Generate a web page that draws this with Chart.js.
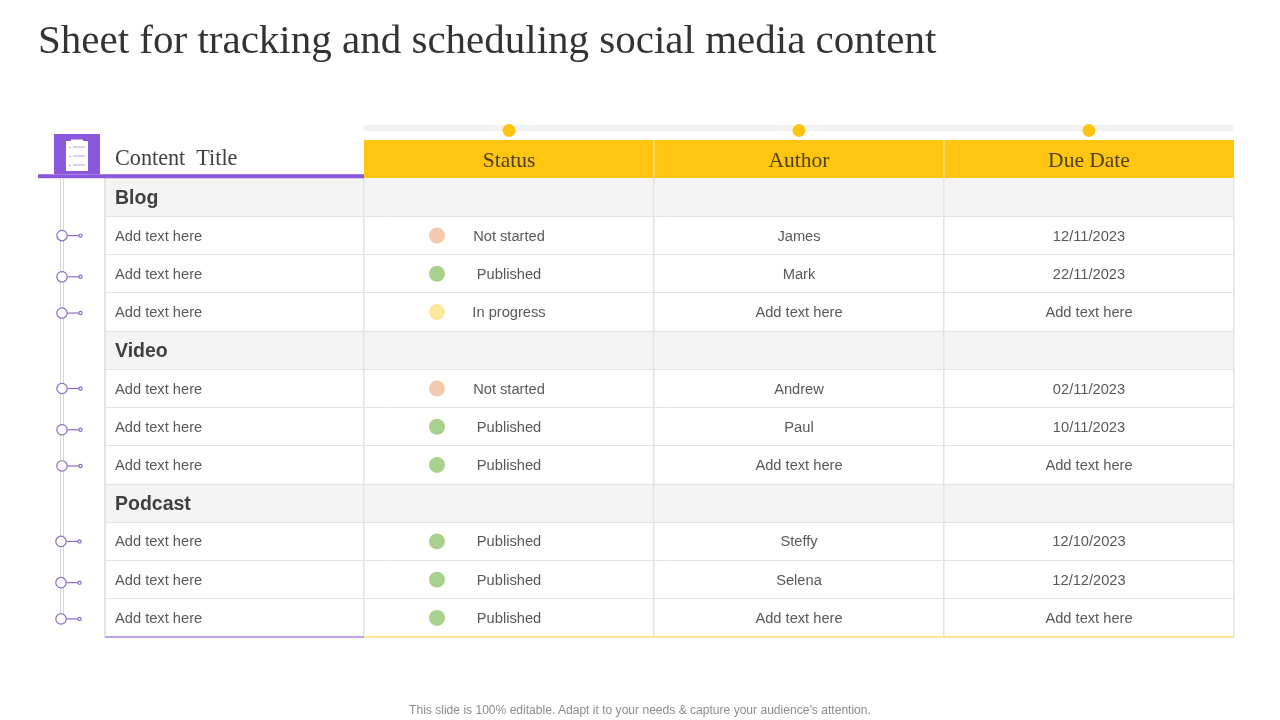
<!DOCTYPE html>
<html>
<head>
<meta charset="utf-8">
<title>Sheet for tracking and scheduling social media content</title>
<script src="https://cdn.jsdelivr.net/npm/chart.js@4/dist/chart.umd.min.js"></script>
<style>
    body { margin: 0; background: #fff; width: 1280px; height: 720px; overflow: hidden; position: relative; }
    canvas { position: absolute; left: 0; top: 0; }
    h1 { position: absolute; left: 38px; top: 15px; margin: 0; font: 400 41px "Liberation Serif", serif; color: #333; white-space: nowrap; }
    p { position: absolute; left: 0; width: 1280px; top: 703px; margin: 0; text-align: center; font: 12.07px "Liberation Sans", sans-serif; color: #8c8c8c; }
</style>
</head>
<body>
<canvas id="myChart" width="1280" height="720"></canvas>
<h1>Sheet for tracking and scheduling social media content</h1>
<p>This slide is 100% editable. Adapt it to your needs &amp; capture your audience’s attention.</p>
<script>
const columnTitles = ['Status', 'Author', 'Due Date'];
const rowTitles = [
    'Content  Title',
    'Blog', 'Add text here', 'Add text here', 'Add text here',
    'Video', 'Add text here', 'Add text here', 'Add text here',
    'Podcast', 'Add text here', 'Add text here', 'Add text here'
];
const sections = ['Blog', 'Video', 'Podcast'];
const statusValues = [
    null,
    null, 'Not started', 'Published', 'In progress',
    null, 'Not started', 'Published', 'Published',
    null, 'Published', 'Published', 'Published'
];
const authorValues = [
    null,
    null, 'James', 'Mark', 'Add text here',
    null, 'Andrew', 'Paul', 'Add text here',
    null, 'Steffy', 'Selena', 'Add text here'
];
const dueDates = [
    null,
    null, '12/11/2023', '22/11/2023', 'Add text here',
    null, '02/11/2023', '10/11/2023', 'Add text here',
    null, '12/10/2023', '12/12/2023', 'Add text here'
];

// table layout, x scale is in page pixels
const columnEdges = [364, 654, 944, 1234];
const tableLeft = 105;
const tableRight = 1234;
const statusDotX = 437;
const statusColors = { 'Not started': '#f5c9ad', 'Published': '#a9d18e', 'In progress': '#ffe699' };
const timelineNudge = [0, 3, 1, 0, 3, 1, 0, 3, 1];

const purple = '#8b57db';
const yellow = '#ffc510';
const lineGrey = '#e3e3e3';

function isSection(label) {
    return sections.includes(label);
}

function columnCentre(scale, col) {
    return scale.getPixelForValue((columnEdges[col] + columnEdges[col + 1]) / 2);
}

const tableDecor = {
    id: 'tableDecor',
    afterDraw(chart) {
        const c = chart.ctx;
        const x = chart.scales.x;
        const y = chart.scales.y;
        const top = chart.chartArea.top;
        const bottom = chart.chartArea.bottom;
        const firstRow = y.getPixelForValue(1) - (y.getPixelForValue(1) - y.getPixelForValue(0)) / 2;

        // rail above the header with its dots
        c.fillStyle = '#f3f3f3';
        c.fillRect(364, 125, 870, 6);
        c.fillStyle = yellow;
        columnTitles.forEach((t, i) => {
            c.beginPath();
            c.arc(columnCentre(x, i), 130.5, 6.5, 0, Math.PI * 2);
            c.fill();
        });

        // grid lines are fainter on the yellow header
        c.clearRect(362, top, 2, firstRow - top);
        c.clearRect(1234, top, 2, firstRow - top);
        c.fillStyle = yellow;
        c.fillRect(364, top, 1, firstRow - top);
        c.fillRect(1233, top, 1, firstRow - top);
        c.fillStyle = '#f7d35f';
        c.fillRect(653.25, top, 1.5, firstRow - top);
        c.fillRect(943.25, top, 1.5, firstRow - top);

        // left edge of the table and the bottom rules
        c.fillStyle = lineGrey;
        c.fillRect(tableLeft - 1, firstRow, 2, bottom - firstRow);
        c.fillStyle = '#bda3e6';
        c.fillRect(tableLeft, bottom - 1, 364 - tableLeft, 2);
        c.fillStyle = '#ffe699';
        c.fillRect(364, bottom - 1, tableRight - 364, 2);

        // purple heading rule and icon
        c.fillStyle = purple;
        c.fillRect(38, firstRow - 4, 326, 4);
        c.fillRect(54, top - 6, 46, 40);
        c.fillStyle = '#fff';
        c.fillRect(66, 141, 22, 30);
        c.fillRect(71, 139.5, 12, 3);
        c.strokeStyle = '#b79be8';
        c.lineWidth = 1;
        [147, 156, 165].forEach(ly => {
            c.beginPath();
            c.moveTo(69, ly);
            c.lineTo(71, ly + 1);
            c.moveTo(73, ly);
            c.lineTo(85, ly);
            c.stroke();
        });

        // timeline next to the rows
        c.fillStyle = '#d6d6d6';
        c.fillRect(60, firstRow, 1, 440);
        c.fillRect(63, firstRow, 1, 440);
        const rows = rowTitles.map((t, i) => i).filter(i => i > 0 && !isSection(rowTitles[i]));
        rows.forEach((row, i) => {
            const cy = y.getPixelForValue(row) + timelineNudge[i];
            const cx = i > 5 ? 61 : 62;
            c.strokeStyle = '#8e6bc9';
            c.lineWidth = 1.2;
            c.beginPath();
            c.moveTo(cx + 5.5, cy);
            c.lineTo(cx + 17, cy);
            c.stroke();
            c.fillStyle = '#fff';
            c.beginPath();
            c.arc(cx, cy, 5.2, 0, Math.PI * 2);
            c.fill();
            c.stroke();
            c.beginPath();
            c.arc(cx + 18.5, cy, 1.6, 0, Math.PI * 2);
            c.fill();
            c.stroke();
        });

        // header text
        c.textBaseline = 'middle';
        c.textAlign = 'left';
        c.font = '22.2px "Liberation Serif", serif';
        c.fillStyle = '#404040';
        c.fillText(rowTitles[0], tableLeft + 10, y.getPixelForValue(0));
        c.textAlign = 'center';
        c.font = '21.5px "Liberation Serif", serif';
        c.fillStyle = '#4d4316';
        columnTitles.forEach((t, i) => c.fillText(t, columnCentre(x, i), y.getPixelForValue(0) + 2));

        // cell text
        c.font = '14.67px "Liberation Sans", sans-serif';
        c.fillStyle = '#595959';
        [statusValues, authorValues, dueDates].forEach((col, i) => {
            col.forEach((text, row) => {
                if (text) c.fillText(text, columnCentre(x, i), y.getPixelForValue(row) + 1);
            });
        });
    }
};

var ctx = document.getElementById('myChart').getContext('2d');
var myChart = new Chart(ctx, {
    type: 'bar',
    plugins: [tableDecor],
    data: {
        labels: rowTitles,
        datasets: [{
            label: 'Sections',
            indexAxis: 'y',
            grouped: false,
            data: rowTitles.map(t => isSection(t) ? [tableLeft, tableRight] : null),
            backgroundColor: '#f4f4f4',
            barPercentage: 1,
            categoryPercentage: 1
        }, {
            label: 'Header',
            indexAxis: 'y',
            grouped: false,
            data: rowTitles.map((t, i) => i === 0 ? [columnEdges[0], tableRight] : null),
            backgroundColor: yellow,
            barPercentage: 1,
            categoryPercentage: 1
        }, {
            type: 'scatter',
            label: 'Status',
            data: statusValues.map((s, i) => ({ x: s ? statusDotX : null, y: rowTitles[i] })),
            pointRadius: 8,
            pointBorderWidth: 0,
            pointBackgroundColor: c => statusColors[statusValues[c.dataIndex]]
        }]
    },
    options: {
        responsive: false,
        animation: false,
        layout: { padding: { left: tableLeft, right: 1280 - tableRight, top: 140, bottom: 83 } },
        plugins: { legend: { display: false }, tooltip: { enabled: false } },
        scales: {
            x: {
                type: 'linear',
                min: tableLeft,
                max: tableRight,
                offset: false,
                border: { display: false },
                ticks: { display: false },
                afterBuildTicks: scale => { scale.ticks = columnEdges.map(v => ({ value: v })); },
                grid: { color: lineGrey, lineWidth: 1.5, drawTicks: false, offset: false, z: 1 }
            },
            y: {
                type: 'category',
                offset: true,
                border: { display: false },
                afterFit: scale => { scale.width = 0; },
                grid: {
                    offset: true,
                    drawTicks: false,
                    z: 1,
                    lineWidth: 1,
                    color: c => (c.index === 0 || c.index === 1 || c.index === undefined) ? 'rgba(0,0,0,0)' : lineGrey
                },
                ticks: {
                    mirror: true,
                    padding: 10,
                    labelOffset: 1,
                    z: 2,
                    autoSkip: false,
                    // the header label is drawn with the column titles
                    callback: (value, index) => index === 0 ? '' : rowTitles[index],
                    font: c => {
                        if (isSection(rowTitles[c.index])) return { family: '"Liberation Sans", sans-serif', size: 19.5, weight: 'bold' };
                        return { family: '"Liberation Sans", sans-serif', size: 14.67 };
                    },
                    color: c => isSection(rowTitles[c.index]) ? '#404040' : '#595959'
                }
            }
        }
    }
});
</script>
</body>
</html>
